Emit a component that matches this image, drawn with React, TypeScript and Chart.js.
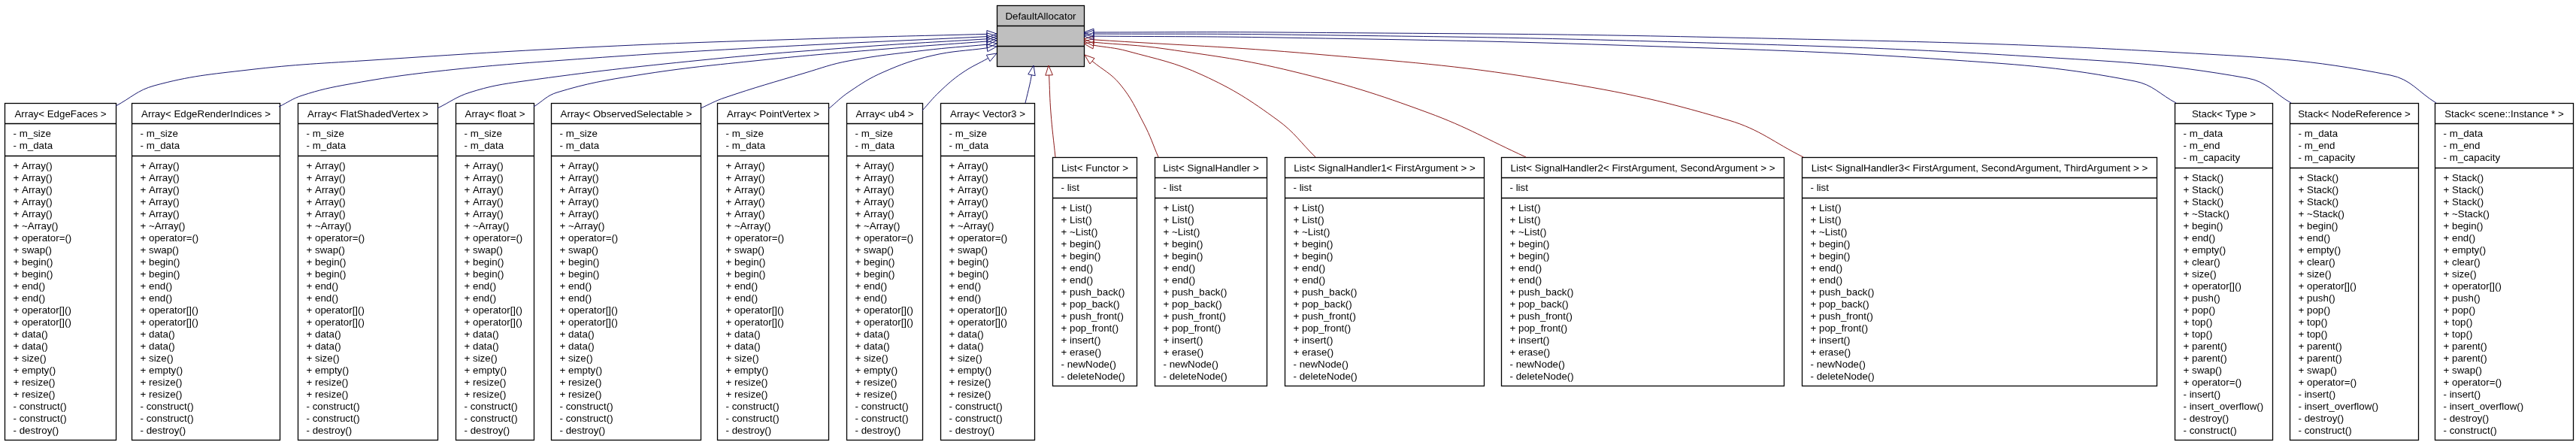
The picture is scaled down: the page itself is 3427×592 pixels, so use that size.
import { useEffect, useRef } from 'react';
import { Chart, registerables } from 'chart.js';
Chart.register(...registerables);

// ---------- DATA ----------
const parentClass = 'DefaultAllocator';

const arrayClasses = [
  'Array< EdgeFaces >',
  'Array< EdgeRenderIndices >',
  'Array< FlatShadedVertex >',
  'Array< float >',
  'Array< ObservedSelectable >',
  'Array< PointVertex >',
  'Array< ub4 >',
  'Array< Vector3 >',
];
const arrayAttributes = ['- m_size', '- m_data'];
const arrayMethods = [
  '+ Array()', '+ Array()', '+ Array()', '+ Array()', '+ Array()', '+ ~Array()',
  '+ operator=()', '+ swap()', '+ begin()', '+ begin()', '+ end()', '+ end()',
  '+ operator[]()', '+ operator[]()', '+ data()', '+ data()', '+ size()', '+ empty()',
  '+ resize()', '+ resize()', '- construct()', '- construct()', '- destroy()',
];

const listClasses = [
  'List< Functor >',
  'List< SignalHandler >',
  'List< SignalHandler1< FirstArgument > >',
  'List< SignalHandler2< FirstArgument, SecondArgument > >',
  'List< SignalHandler3< FirstArgument, SecondArgument, ThirdArgument > >',
];
const listAttributes = ['- list'];
const listMethods = [
  '+ List()', '+ List()', '+ ~List()', '+ begin()', '+ begin()', '+ end()', '+ end()',
  '+ push_back()', '+ pop_back()', '+ push_front()', '+ pop_front()', '+ insert()',
  '+ erase()', '- newNode()', '- deleteNode()',
];

const stackClasses = ['Stack< Type >', 'Stack< NodeReference >', 'Stack< scene::Instance * >'];
const stackAttributes = ['- m_data', '- m_end', '- m_capacity'];
const stackMethods = [
  '+ Stack()', '+ Stack()', '+ Stack()', '+ ~Stack()', '+ begin()', '+ end()', '+ empty()',
  '+ clear()', '+ size()', '+ operator[]()', '+ push()', '+ pop()', '+ top()', '+ top()',
  '+ parent()', '+ parent()', '+ swap()', '+ operator=()', '- insert()', '- insert_overflow()',
  '- destroy()', '- construct()',
];

// inheritance kind per child group: public (blue) / private (red)
const arrayInheritance = 'public';
const listInheritance = 'private';
const stackInheritance = 'public';

// ---------- LAYOUT (graph positions, px in diagram space) ----------
const W = 3427;
const H = 592;
const childRankCenterY = 361;
const parentCenterY = 47;
const parentSpan = [1326, 1442];
const arraySpans = [[6, 154], [175, 372], [396, 582], [606, 710], [733, 932], [954, 1102], [1126, 1227], [1251, 1376]];
const listSpans = [[1400, 1512], [1536, 1685], [1709, 1974], [1997, 2373], [2397, 2869]];
const stackSpans = [[2893, 3023], [3046, 3217], [3239, 3423]];

// edge routes (child -> parent), last point is the arrow tip
const arrayRoutes = [
  [[154, 141], [205, 114], [330, 93], [495, 80], [800, 62], [1100, 51], [1326, 45]],
  [[371, 142], [402, 127], [464, 112], [580, 95], [750, 80], [1000, 64], [1326, 48]],
  [[582, 144], [625, 123], [696, 108], [933, 80], [1150, 62], [1326, 51]],
  [[710, 142], [741, 123], [848, 100], [1013, 80], [1180, 65], [1326, 54]],
  [[932, 144], [964, 130], [1071, 97], [1129, 81], [1230, 67], [1326, 58]],
  [[1102, 145], [1130, 122], [1175, 96], [1240, 74], [1326, 62]],
  [[1227, 147], [1250, 122], [1280, 97], [1326, 71]],
  [[1364, 137], [1370, 112], [1375, 87]],
];
const listRoutes = [
  [[1404, 209], [1398, 150], [1395, 87]],
  [[1541, 209], [1522, 165], [1490, 112], [1443, 73]],
  [[1750, 209], [1700, 160], [1600, 100], [1500, 68], [1442, 58]],
  [[2030, 209], [1900, 150], [1720, 95], [1550, 65], [1442, 55]],
  [[2399, 209], [2300, 160], [2050, 105], [1750, 72], [1442, 52]],
];
const stackRoutes = [
  [[2895, 137], [2840, 108], [2600, 80], [2150, 60], [1700, 50], [1442, 48]],
  [[3048, 137], [2990, 104], [2700, 75], [2200, 55], [1700, 46], [1442, 45]],
  [[3241, 137], [3180, 100], [2900, 70], [2300, 50], [1700, 43], [1442, 43]],
];

// ---------- STYLE ----------
const COLORS: Record<string, string> = { public: '#191970', private: '#8b1a1a' };
const FONT = '13.33px "Liberation Sans", Arial, Helvetica, sans-serif';
const ARROW_LEN = 13;
const ARROW_HALF = 4.8;

type Box = { name: string; attrs: string[]; methods: string[]; span: number[]; cy: number; fill: string };

const boxes: Box[] = [
  { name: parentClass, attrs: [], methods: [], span: parentSpan, cy: parentCenterY, fill: '#bfbfbf' },
  ...arrayClasses.map((n, i) => ({ name: n, attrs: arrayAttributes, methods: arrayMethods, span: arraySpans[i], cy: childRankCenterY, fill: '#ffffff' })),
  ...listClasses.map((n, i) => ({ name: n, attrs: listAttributes, methods: listMethods, span: listSpans[i], cy: childRankCenterY, fill: '#ffffff' })),
  ...stackClasses.map((n, i) => ({ name: n, attrs: stackAttributes, methods: stackMethods, span: stackSpans[i], cy: childRankCenterY, fill: '#ffffff' })),
];

type Edge = { route: number[][]; color: string };
const edges: Edge[] = [
  ...arrayRoutes.map((r) => ({ route: r, color: COLORS[arrayInheritance] })),
  ...listRoutes.map((r) => ({ route: r, color: COLORS[listInheritance] })),
  ...stackRoutes.map((r) => ({ route: r, color: COLORS[stackInheritance] })),
];

function dirOf(route: number[][]) {
  const t = route[route.length - 1];
  const p = route[route.length - 2];
  const dx = t[0] - p[0];
  const dy = t[1] - p[1];
  const l = Math.hypot(dx, dy) || 1;
  return [dx / l, dy / l];
}

function sections(b: Box) {
  const header = 27;
  const attrH = b.attrs.length ? 27 + 16 * (b.attrs.length - 1) : 27;
  const methH = b.methods.length ? 26 + 16 * (b.methods.length - 1) : 27;
  const total = header + attrH + methH;
  const top = b.cy - total / 2;
  return { top, div1: top + header, div2: top + header + attrH, bottom: top + total };
}

const diagramPlugin = {
  id: 'umlDiagram',
  beforeDatasetsDraw(chart: any) {
    const { ctx } = chart;
    const sx = chart.scales.x;
    const sy = chart.scales.y;
    ctx.save();
    ctx.fillStyle = '#ffffff';
    ctx.fillRect(0, 0, chart.width, chart.height);
    for (const b of boxes) {
      const s = sections(b);
      const l = Math.round(sx.getPixelForValue(b.span[0])) + 0.5;
      const r = Math.round(sx.getPixelForValue(b.span[1])) + 0.5;
      const t = Math.round(sy.getPixelForValue(s.top)) + 0.5;
      const bt = Math.round(sy.getPixelForValue(s.bottom)) + 0.5;
      const d1 = Math.round(sy.getPixelForValue(s.div1)) + 0.5;
      const d2 = Math.round(sy.getPixelForValue(s.div2)) + 0.5;
      ctx.fillStyle = b.fill;
      ctx.fillRect(l, t, r - l, bt - t);
      ctx.strokeStyle = '#000000';
      ctx.lineWidth = 1.3;
      ctx.strokeRect(l, t, r - l, bt - t);
      ctx.beginPath();
      ctx.moveTo(l, d1);
      ctx.lineTo(r, d1);
      ctx.moveTo(l, d2);
      ctx.lineTo(r, d2);
      ctx.stroke();

      ctx.fillStyle = '#000000';
      ctx.font = FONT;
      ctx.textBaseline = 'alphabetic';
      ctx.textAlign = 'center';
      ctx.fillText(b.name, (l + r) / 2, sy.getPixelForValue(s.top + 14.5 + 4.7));
      ctx.textAlign = 'left';
      b.attrs.forEach((a, i) => {
        ctx.fillText(a, l + 11, sy.getPixelForValue(s.div1 + 13 + 16 * i + 4.7));
      });
      b.methods.forEach((m, i) => {
        ctx.fillText(m, l + 11, sy.getPixelForValue(s.div2 + 13 + 16 * i + 4.7));
      });
    }
    ctx.restore();
  },
  afterDatasetsDraw(chart: any) {
    const { ctx } = chart;
    const sx = chart.scales.x;
    const sy = chart.scales.y;
    ctx.save();
    ctx.lineWidth = 1;
    for (const e of edges) {
      const tip = e.route[e.route.length - 1];
      const [dx, dy] = dirOf(e.route);
      const bx = tip[0] - ARROW_LEN * dx;
      const by = tip[1] - ARROW_LEN * dy;
      const nx = -dy;
      const ny = dx;
      ctx.strokeStyle = e.color;
      ctx.beginPath();
      ctx.moveTo(sx.getPixelForValue(tip[0]), sy.getPixelForValue(tip[1]));
      ctx.lineTo(sx.getPixelForValue(bx + ARROW_HALF * nx), sy.getPixelForValue(by + ARROW_HALF * ny));
      ctx.lineTo(sx.getPixelForValue(bx - ARROW_HALF * nx), sy.getPixelForValue(by - ARROW_HALF * ny));
      ctx.closePath();
      ctx.stroke();
    }
    ctx.restore();
  },
};

export default function App() {
  const ref = useRef<HTMLCanvasElement>(null);
  useEffect(() => {
    if (!ref.current) return;
    const datasets = edges.map((e) => {
      const [dx, dy] = dirOf(e.route);
      const tip = e.route[e.route.length - 1];
      const pts = e.route.slice(0, -1).map((p) => ({ x: p[0], y: p[1] }));
      pts.push({ x: tip[0] - ARROW_LEN * dx, y: tip[1] - ARROW_LEN * dy });
      return {
        data: pts,
        showLine: true,
        borderColor: e.color,
        backgroundColor: e.color,
        borderWidth: 1,
        pointRadius: 0,
        tension: 0.4,
        fill: false,
      };
    });
    const chart = new Chart(ref.current, {
      type: 'scatter',
      data: { datasets },
      options: {
        responsive: false,
        animation: false,
        devicePixelRatio: 1,
        events: [],
        layout: { padding: 0 },
        scales: {
          x: { type: 'linear', min: 0, max: W, display: false },
          y: { type: 'linear', min: 0, max: H, reverse: true, display: false },
        },
        plugins: { legend: { display: false }, tooltip: { enabled: false } },
      },
      plugins: [diagramPlugin],
    } as any);
    return () => chart.destroy();
  }, []);
  return (
    <div style={{ position: 'absolute', left: 0, top: 0, width: W, height: H, background: '#ffffff' }}>
      <canvas ref={ref} width={W} height={H} style={{ display: 'block', width: W, height: H }} />
    </div>
  );
}
